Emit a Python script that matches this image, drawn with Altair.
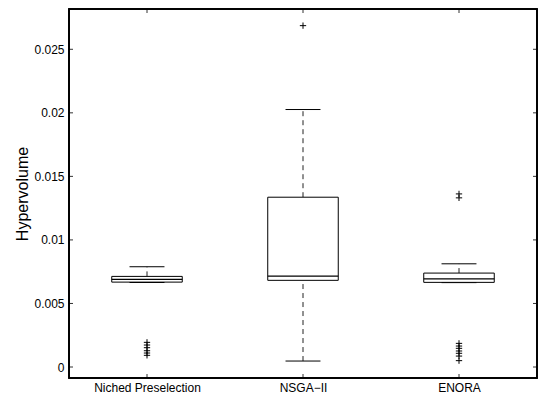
import json
import altair as alt
import pandas as pd

# ---- data ----
categories = ["Niched Preselection", "NSGA\u2212II", "ENORA"]
positions = [1, 2, 3]
q1 = [0.00668, 0.00682, 0.00666]
median = [0.00690, 0.00715, 0.00694]
q3 = [0.00713, 0.01336, 0.00739]
whisker_lo = [0.00665, 0.00047, 0.00664]
whisker_hi = [0.00789, 0.02026, 0.00812]
outliers_niched = [0.00194, 0.00173, 0.00152, 0.00128, 0.00110, 0.00092]
outliers_nsga = [0.02686]
outliers_enora = [0.01362, 0.01331, 0.00186, 0.00165, 0.00147, 0.00126,
                  0.00108, 0.00086, 0.00050]
y_ticks = [0, 0.005, 0.01, 0.015, 0.02, 0.025]

W, H = 468, 369
BOX_HALF = 0.226
CAP_HALF = 0.112

boxes = pd.DataFrame({
    "cat": categories, "pos": positions, "q1": q1, "med": median, "q3": q3,
    "lo": whisker_lo, "hi": whisker_hi,
})
boxes["bl"] = boxes["pos"] - BOX_HALF
boxes["br"] = boxes["pos"] + BOX_HALF
boxes["cl"] = boxes["pos"] - CAP_HALF
boxes["cr"] = boxes["pos"] + CAP_HALF

out_rows = []
for p, vals in zip(positions, [outliers_niched, outliers_nsga, outliers_enora]):
    for v in vals:
        out_rows.append({"pos": p, "v": v})
outs = pd.DataFrame(out_rows)

yt = pd.DataFrame({"v": y_ticks})
xt = pd.DataFrame({"pos": positions})

label_expr = " : ".join(
    f"datum.value == {p} ? {json.dumps(c)}" for p, c in zip(positions, categories)
) + " : ''"

xscale = alt.Scale(domain=[0.5, 3.5], nice=False, zero=False)
yscale = alt.Scale(domain=[-0.000865, 0.02817], nice=False, zero=False)

FONT = "Liberation Sans"

xaxis = alt.Axis(values=positions, labelExpr=label_expr, title=None, ticks=False,
                 domain=False, grid=False, labelFont=FONT, labelFontSize=12,
                 labelColor="black", labelPadding=13, labelBaseline="alphabetic")
yaxis = alt.Axis(values=y_ticks, format="~g", title="Hypervolume", ticks=False,
                 domain=False, grid=False, labelFont=FONT, labelFontSize=12,
                 labelColor="black", labelPadding=5, titleFont=FONT,
                 titleFontSize=16, titleFontWeight="normal", titleColor="black",
                 titlePadding=3)

base = alt.Chart(boxes)

box = base.mark_rect(fill="white", stroke="black", strokeWidth=1).encode(
    x=alt.X("bl:Q", scale=xscale, axis=xaxis), x2="br:Q",
    y=alt.Y("q1:Q", scale=yscale, axis=yaxis), y2="q3:Q",
)
med = base.mark_rule(color="black", strokeWidth=1.2).encode(
    x="bl:Q", x2="br:Q", y="med:Q"
)
w_up = base.mark_rule(color="#222", strokeWidth=1, strokeDash=[5, 4]).encode(
    x="pos:Q", y="q3:Q", y2="hi:Q"
)
w_dn = base.mark_rule(color="#222", strokeWidth=1, strokeDash=[5, 4]).encode(
    x="pos:Q", y="lo:Q", y2="q1:Q"
)
cap_up = base.mark_rule(color="black", strokeWidth=1).encode(
    x="cl:Q", x2="cr:Q", y="hi:Q"
)
cap_dn = base.mark_rule(color="black", strokeWidth=1).encode(
    x="cl:Q", x2="cr:Q", y="lo:Q"
)
pts = alt.Chart(outs).mark_point(
    shape="M-1,0H1M0,-1V1", filled=False, stroke="black", strokeWidth=1, size=40,
    opacity=1,
).encode(x="pos:Q", y="v:Q")

TL = 4
lt = alt.Chart(yt).mark_rule(color="#333").encode(
    x=alt.value(0), x2=alt.value(TL), y="v:Q")
rt = alt.Chart(yt).mark_rule(color="#333").encode(
    x=alt.value(W - TL), x2=alt.value(W), y="v:Q")
bt = alt.Chart(xt).mark_rule(color="#333").encode(
    x="pos:Q", y=alt.value(H - TL), y2=alt.value(H))
tt = alt.Chart(xt).mark_rule(color="#333").encode(
    x="pos:Q", y=alt.value(0), y2=alt.value(TL))

frame = alt.Chart(xt).mark_rect(fill=None, stroke="black", strokeWidth=1.5).encode(
    x=alt.value(0), x2=alt.value(W), y=alt.value(0), y2=alt.value(H))

chart = alt.layer(
    w_up, w_dn, cap_up, cap_dn, box, med, pts, lt, rt, bt, tt, frame
).properties(
    width=W, height=H,
    autosize=alt.AutoSizeParams(type="none"),
    padding={"left": 61, "top": 1, "right": 1, "bottom": 15},
).configure_view(
    stroke=None
).configure(background="white")

chart.save("out.html", embed_options={"renderer": "svg", "actions": False})
